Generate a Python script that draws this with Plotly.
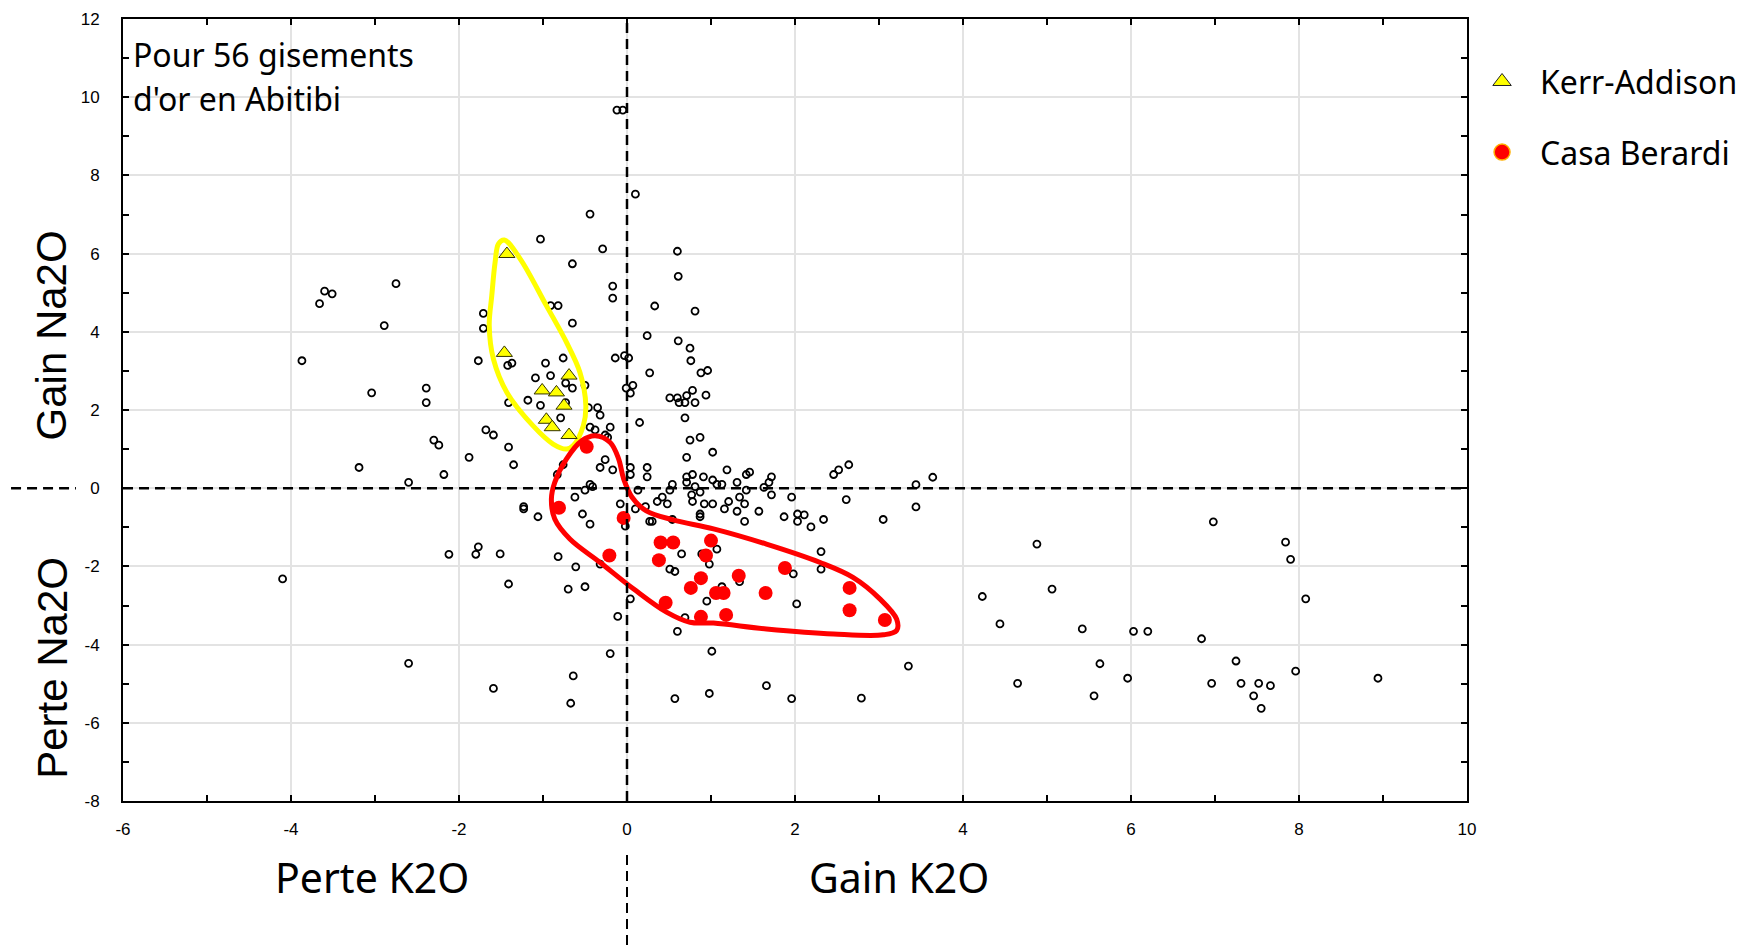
import plotly.graph_objects as go

# ---------------- data ----------------
others_x = [0.10,-0.44,-1.03,-0.29,0.60,-0.65,0.61,-2.75,-3.60,-3.51,-3.66,-0.17,-0.17,-0.91,-0.82,0.33,0.81,-1.71,-2.89,-1.71,
            -0.65,0.24,0.61,0.75,0.76,-3.87,-1.77,-1.42,-1.37,-0.97,-0.76,-0.14,-0.03,0.02,0.27,0.88,0.96,-1.09,-0.91,-0.73,
            -0.65,-0.50,-0.01,0.07,0.04,-3.04,-2.39,-2.39,-1.41,-1.18,-1.03,-0.73,0.51,0.60,0.71,0.78,0.62,0.69,0.81,0.94,
            -0.46,-0.35,-0.32,-0.79,0.69,0.15,-1.68,-1.59,-0.44,-0.38,-0.20,-0.26,-0.23,0.75,0.87,-2.30,-2.24,-1.41,1.02,0.71,
            -3.19,-1.88,-1.35,-0.26,-0.32,-0.17,-0.76,-0.83,0.04,0.04,0.24,0.24,-2.60,-2.18,-0.44,-0.41,-0.50,0.13,0.54,0.51,
            0.71,0.71,0.78,0.81,0.87,0.91,1.02,1.07,1.13,1.19,1.31,1.42,1.46,1.42,1.63,1.69,1.72,1.72,1.96,2.03,
            2.03,1.21,1.34,1.40,1.31,1.16,1.40,1.57,1.87,0.78,0.92,1.02,0.87,0.87,0.36,0.42,0.48,0.22,0.10,-0.08,
            -0.62,-0.53,-0.44,-1.23,-1.23,-1.06,-0.02,0.27,0.30,0.54,0.77,
            2.46,2.52,2.64,3.44,3.64,2.61,2.11,2.19,2.34,3.05,3.44,2.31,2.31,3.35,2.79,
            -1.51,-0.82,-0.61,-0.32,-1.41,-0.70,-0.50,0.65,0.89,1.07,0.98,0.51,0.57,0.77,1.13,1.34,0.95,0.04,0.69,0.60,
            -0.11,-0.20,1.01,-0.64,-0.67,0.57,0.98,1.66,1.96,2.02,1.98,
            -4.10,-2.12,-1.80,-1.77,-2.60,-1.59,
            4.88,4.23,5.06,4.44,4.65,5.42,5.63,5.56,5.96,6.03,6.20,6.98,6.84,6.96,7.25,7.31,7.52,7.66,7.46,7.55,
            7.84,7.90,8.08,7.96,8.94,
            -0.12,-0.05]
others_y = [7.52,7.01,6.37,6.12,6.06,5.74,5.42,5.23,5.04,4.97,4.72,5.17,4.86,4.67,4.67,4.66,4.53,4.47,4.16,4.09,
            4.22,3.90,3.77,3.58,3.26,3.26,3.26,3.14,3.20,3.20,3.33,3.33,3.39,3.33,2.95,2.95,3.01,2.82,2.88,2.69,
            2.56,2.63,2.56,2.63,2.43,2.44,2.56,2.19,2.19,2.25,2.12,2.19,2.31,2.31,2.37,2.50,2.19,2.19,2.19,2.38,
            2.06,2.06,1.87,1.80,1.80,1.68,1.49,1.36,1.56,1.49,1.56,1.36,1.30,1.23,1.30,1.23,1.10,1.05,0.92,0.79,
            0.53,0.79,0.60,0.73,0.53,0.47,0.60,0.35,0.53,0.35,0.53,0.29,0.15,0.35,0.10,0.04,-0.05,-0.05,0.10,-0.05,
            0.29,0.15,0.35,0.04,-0.10,0.29,0.21,0.10,0.10,0.47,0.15,0.35,0.41,-0.05,0.02,0.15,0.29,-0.17,-0.23,-0.66,
            -0.85,-0.34,-0.23,-0.40,-0.59,-0.53,-0.85,-0.59,-0.73,-0.34,-0.40,-0.40,-0.66,-0.73,-0.34,-0.23,-0.40,-0.47,-0.53,-0.40,
            -0.23,-0.66,-0.92,-0.47,-0.53,-0.73,-0.97,-0.85,-0.85,-0.80,-0.17,
            0.35,0.47,0.60,0.09,0.28,-0.29,-0.68,-0.99,-0.80,-0.80,-0.48,-1.62,-2.07,-4.55,-5.37,
            -1.68,-1.75,-2.01,-1.94,-2.45,-2.58,-2.52,-1.68,-1.68,-1.56,-1.94,-2.07,-2.13,-2.52,-2.52,-2.39,-2.89,-2.83,-3.31,-3.66,
            -3.28,-4.23,-4.17,-4.80,-5.50,-5.38,-5.25,-5.05,-5.38,-2.96,-2.19,
            -2.32,-1.69,-1.69,-1.50,-4.48,-5.12,
            -1.43,-2.77,-2.58,-3.47,-4.99,-3.60,-4.49,-5.31,-4.86,-3.66,-3.66,-0.86,-3.85,-4.99,-4.42,-4.99,-4.99,-5.05,-5.31,-5.63,
            -1.38,-1.82,-2.83,-4.68,-4.86,
            9.67,9.67]

kerr_x = [-1.43,-1.46,-0.69,-1.01,-0.84,-0.75,-0.96,-0.89,-0.69]
kerr_y = [5.99,3.46,2.88,2.50,2.45,2.11,1.75,1.56,1.36]

casa_x = [-0.48,-0.81,-0.04,-0.21,0.40,0.55,1.00,0.38,0.94,0.88,0.76,1.33,1.06,1.15,1.88,1.65,0.46,0.88,1.18,2.65,2.65,3.07]
casa_y = [1.06,-0.50,-0.76,-1.72,-1.39,-1.39,-1.34,-1.84,-1.72,-2.30,-2.55,-2.24,-2.68,-2.68,-2.04,-2.68,-2.93,-3.29,-3.24,-2.55,-3.12,-3.37]

# hand-drawn outlines around each deposit (data coordinates)
kerr_outline_x = [-1.46,-1.27,-0.96,-0.72,-0.56,-0.49,-0.52,-0.64,-0.72,-0.88,-1.12,-1.43,-1.59,-1.64,-1.61,-1.57,-1.53,-1.46]
kerr_outline_y = [6.35,5.86,4.67,3.73,2.96,2.11,1.60,1.09,1.00,1.13,1.60,2.45,3.30,4.16,4.92,5.78,6.25,6.35]
casa_outline_x = [-0.38,-0.20,-0.10,-0.04,0.06,0.23,0.55,1.03,1.66,2.30,2.69,3.01,3.21,3.21,3.05,2.46,1.66,1.03,0.75,0.47,
                  0.08,-0.32,-0.68,-0.86,-0.90,-0.86,-0.72,-0.54,-0.38]
casa_outline_y = [1.34,1.17,0.75,0.24,-0.23,-0.58,-0.81,-1.04,-1.43,-1.90,-2.28,-2.83,-3.35,-3.64,-3.75,-3.73,-3.60,-3.45,-3.43,-3.17,
                  -2.58,-1.90,-1.30,-0.79,-0.28,0.15,0.75,1.21,1.34]

x_tick_vals = [-6, -4, -2, 0, 2, 4, 6, 8, 10]
x_tick_text = ["-6", "-4", "-2", "0", "2", "4", "6", "8", "10"]
y_tick_vals = [-8, -6, -4, -2, 0, 2, 4, 6, 8, 10, 12]
y_tick_text = ["-8", "-6", "-4", "-2", "0", "2", "4", "6", "8", "10", "12"]

series_names = ["Kerr-Addison", "Casa Berardi"]
note_lines = ["Pour 56 gisements", "d'or en Abitibi"]

# ---------------- figure ----------------
fig = go.Figure()

fig.add_trace(go.Scatter(x=others_x, y=others_y, mode="markers", showlegend=False,
                         marker=dict(symbol="circle-open", size=7, color="black", line=dict(width=1.8))))
fig.add_trace(go.Scatter(x=kerr_outline_x, y=kerr_outline_y, mode="lines", showlegend=False,
                         line=dict(color="#ffff00", width=5, shape="spline", smoothing=1.0)))
fig.add_trace(go.Scatter(x=casa_outline_x, y=casa_outline_y, mode="lines", showlegend=False,
                         line=dict(color="#ff0000", width=5, shape="spline", smoothing=1.0)))
fig.add_trace(go.Scatter(x=kerr_x, y=kerr_y, mode="markers", showlegend=False,
                         marker=dict(symbol="triangle-up", size=14, color="#ffff00", line=dict(color="#333300", width=1))))
fig.add_trace(go.Scatter(x=casa_x, y=casa_y, mode="markers", showlegend=False,
                         marker=dict(symbol="circle", size=14, color="#ff0000", line=dict(color="#ff0000", width=0))))
# legend entries
fig.add_trace(go.Scatter(x=[None], y=[None], mode="markers", name=series_names[0], legendgroup="a",
                         marker=dict(symbol="triangle-up", size=16, color="#ffff00", line=dict(color="#222222", width=1))))
fig.add_trace(go.Scatter(x=[None], y=[None], mode="markers", name=series_names[1], legendgroup="b",
                         marker=dict(symbol="circle", size=16, color="#ff0000", line=dict(color="#ffb000", width=1.5))))

dash = "10px,6px"
shapes = [
    dict(type="line", xref="x", yref="paper", x0=0, x1=0, y0=0, y1=1, layer="above",
         line=dict(color="black", width=2.5, dash=dash)),
    dict(type="line", xref="paper", yref="y", x0=0, x1=1, y0=0, y1=0, layer="above",
         line=dict(color="black", width=2.5, dash=dash)),
    dict(type="line", xref="x", yref="paper", x0=0, x1=0, y0=-0.069, y1=-0.2,
         line=dict(color="black", width=2, dash=dash)),
    dict(type="line", xref="paper", yref="y", x0=-0.0833, x1=-0.035, y0=0, y1=0,
         line=dict(color="black", width=2.5, dash=dash)),
]

annotations = [
    dict(text=note_lines[0], xref="paper", yref="paper", x=0.006, y=0.955, xanchor="left", yanchor="middle",
         showarrow=False, align="left", font=dict(family="Noto Sans", size=32, color="black")),
    dict(text=note_lines[1], xref="paper", yref="paper", x=0.006, y=0.898, xanchor="left", yanchor="middle",
         showarrow=False, align="left", font=dict(family="Noto Sans", size=32, color="black")),
    dict(text="Gain Na2O", xref="paper", yref="y", x=-0.053, y=3.9, textangle=-90, showarrow=False,
         xanchor="center", yanchor="middle", font=dict(family="Liberation Sans", size=42, color="black")),
    dict(text="Perte Na2O", xref="paper", yref="y", x=-0.053, y=-4.6, textangle=-90, showarrow=False,
         xanchor="center", yanchor="middle", font=dict(family="Liberation Sans", size=42, color="black")),
    dict(text="Perte K2O", xref="x", yref="paper", x=-3.04, y=-0.097, showarrow=False,
         xanchor="center", yanchor="middle", font=dict(family="Noto Sans", size=41, color="black")),
    dict(text="Gain K2O", xref="x", yref="paper", x=3.24, y=-0.097, showarrow=False,
         xanchor="center", yanchor="middle", font=dict(family="Noto Sans", size=41, color="black")),
]

axis_common = dict(showline=True, linecolor="black", linewidth=2, mirror="ticks",
                   showgrid=True, gridcolor="#e3e3e3", gridwidth=1.5, zeroline=False,
                   ticks="inside", ticklen=6, tickwidth=1.5, tickcolor="black",
                   tickfont=dict(family="Liberation Sans", size=17, color="black"),
                   minor=dict(dtick=1, ticks="inside", ticklen=6, tickwidth=1.5, tickcolor="black", showgrid=False))

fig.update_layout(
    width=1752, height=951, autosize=False,
    margin=dict(l=123, r=285, t=19, b=150, autoexpand=False),
    paper_bgcolor="white", plot_bgcolor="white",
    xaxis=dict(range=[-6, 10], tickmode="array", tickvals=x_tick_vals, ticktext=x_tick_text,
               ticklabelstandoff=12, **axis_common),
    yaxis=dict(range=[-8, 12], tickmode="array", tickvals=y_tick_vals, ticktext=y_tick_text,
               ticklabelstandoff=18, **axis_common),
    shapes=shapes, annotations=annotations,
    legend=dict(x=0.9978, y=0.955, xanchor="left", yanchor="top", traceorder="grouped", tracegroupgap=26,
                itemwidth=66,
                font=dict(family="Noto Sans", size=32, color="black"), bgcolor="rgba(0,0,0,0)"),
)

fig.write_html("out.html")
